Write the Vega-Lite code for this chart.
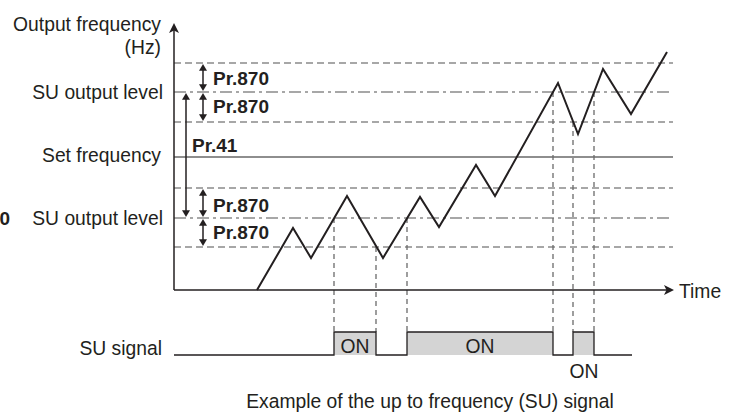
{
  "$schema": "https://vega.github.io/schema/vega-lite/v6.json",
  "width": 732,
  "height": 412,
  "padding": 0,
  "autosize": {"type": "none"},
  "config": {"view": {"stroke": null}, "text": {"font": "Liberation Sans", "fontSize": 19.3, "color": "#231f20"}},
  "encoding": {
    "x": {"field": "x", "type": "quantitative", "scale": {"domain": [0, 732], "nice": false, "zero": false}, "axis": null},
    "y": {"field": "y", "type": "quantitative", "scale": {"domain": [0, 412], "nice": false, "zero": false, "reverse": true}, "axis": null}
  },
  "layer": [
    {
      "data": {"values": [
        {"x": 334, "x2": 376, "y": 332, "y2": 355},
        {"x": 407, "x2": 553, "y": 332, "y2": 355},
        {"x": 573, "x2": 594, "y": 332, "y2": 355}
      ]},
      "mark": {"type": "rect", "color": "#d4d4d4"},
      "encoding": {"x2": {"field": "x2"}, "y2": {"field": "y2"}}
    },
    {
      "data": {"values": [
        {"x": 174, "x2": 673, "y": 63, "kind": "band"},
        {"x": 174, "x2": 673, "y": 92, "kind": "level"},
        {"x": 174, "x2": 673, "y": 122, "kind": "band"},
        {"x": 174, "x2": 673, "y": 157, "kind": "set"},
        {"x": 174, "x2": 673, "y": 188, "kind": "band"},
        {"x": 174, "x2": 673, "y": 218, "kind": "level"},
        {"x": 174, "x2": 673, "y": 247, "kind": "band"}
      ]},
      "mark": {"type": "rule", "strokeWidth": 1.5},
      "encoding": {
        "x2": {"field": "x2"},
        "strokeDash": {"field": "kind", "type": "nominal", "legend": null, "scale": {"domain": ["band", "level", "set"], "range": [[7, 4], [12, 4, 3, 4], [1, 0]]}},
        "color": {"field": "kind", "type": "nominal", "legend": null, "scale": {"domain": ["band", "level", "set"], "range": ["#8a8a8a", "#8a8a8a", "#6a6a6a"]}}
      }
    },
    {
      "data": {"values": [
        {"x": 334, "y": 218, "y2": 332},
        {"x": 376, "y": 247, "y2": 332},
        {"x": 407, "y": 218, "y2": 332},
        {"x": 553, "y": 92, "y2": 332},
        {"x": 573, "y": 122, "y2": 332},
        {"x": 594, "y": 92, "y2": 332}
      ]},
      "mark": {"type": "rule", "strokeWidth": 1.3, "strokeDash": [5, 4], "color": "#6a6a6a"},
      "encoding": {"y2": {"field": "y2"}}
    },
    {
      "data": {"values": [
        {"i": 0, "x": 174, "y": 355},
        {"i": 1, "x": 334, "y": 355},
        {"i": 2, "x": 334, "y": 332},
        {"i": 3, "x": 376, "y": 332},
        {"i": 4, "x": 376, "y": 355},
        {"i": 5, "x": 407, "y": 355},
        {"i": 6, "x": 407, "y": 332},
        {"i": 7, "x": 553, "y": 332},
        {"i": 8, "x": 553, "y": 355},
        {"i": 9, "x": 573, "y": 355},
        {"i": 10, "x": 573, "y": 332},
        {"i": 11, "x": 594, "y": 332},
        {"i": 12, "x": 594, "y": 355},
        {"i": 13, "x": 632, "y": 355}
      ]},
      "mark": {"type": "line", "color": "#231f20", "strokeWidth": 1.3},
      "encoding": {"order": {"field": "i", "type": "quantitative"}}
    },
    {
      "data": {"values": [
        {"i": 0, "x": 257, "y": 290},
        {"i": 1, "x": 293, "y": 228},
        {"i": 2, "x": 311, "y": 258},
        {"i": 3, "x": 347, "y": 196},
        {"i": 4, "x": 383, "y": 258},
        {"i": 5, "x": 420, "y": 197},
        {"i": 6, "x": 439, "y": 227},
        {"i": 7, "x": 476, "y": 165},
        {"i": 8, "x": 495, "y": 196},
        {"i": 9, "x": 558, "y": 83},
        {"i": 10, "x": 578, "y": 134},
        {"i": 11, "x": 603, "y": 69},
        {"i": 12, "x": 631, "y": 114},
        {"i": 13, "x": 667, "y": 52}
      ]},
      "mark": {"type": "line", "color": "#231f20", "strokeWidth": 2},
      "encoding": {"order": {"field": "i", "type": "quantitative"}}
    },
    {
      "data": {"values": [
        {"x": 174, "y": 290, "x2": 174, "y2": 30},
        {"x": 174, "y": 290, "x2": 667, "y2": 290}
      ]},
      "mark": {"type": "rule", "color": "#231f20", "strokeWidth": 1.5},
      "encoding": {"x2": {"field": "x2"}, "y2": {"field": "y2"}}
    },
    {
      "data": {"values": [
        {"x": 203, "y": 66, "y2": 89},
        {"x": 203, "y": 95, "y2": 119},
        {"x": 203, "y": 191, "y2": 215},
        {"x": 203, "y": 221, "y2": 244},
        {"x": 186, "y": 96, "y2": 215}
      ]},
      "mark": {"type": "rule", "color": "#231f20", "strokeWidth": 1.5},
      "encoding": {"y2": {"field": "y2"}}
    },
    {
      "data": {"values": [
        {"x": 203, "y": 64}, {"x": 203, "y": 93}, {"x": 203, "y": 189}, {"x": 203, "y": 219}, {"x": 186, "y": 93}
      ]},
      "mark": {"type": "point", "filled": true, "color": "#231f20", "opacity": 1, "size": 64, "strokeWidth": 0, "shape": "M0,0L-1,1.7L1,1.7Z"}
    },
    {
      "data": {"values": [
        {"x": 203, "y": 91}, {"x": 203, "y": 121}, {"x": 203, "y": 217}, {"x": 203, "y": 246}, {"x": 186, "y": 217}
      ]},
      "mark": {"type": "point", "filled": true, "color": "#231f20", "opacity": 1, "size": 64, "strokeWidth": 0, "shape": "M0,0L-1,-1.7L1,-1.7Z"}
    },
    {
      "data": {"values": [{"x": 174, "y": 23}]},
      "mark": {"type": "point", "filled": true, "color": "#231f20", "opacity": 1, "size": 100, "strokeWidth": 0, "shape": "M0,0L-1,2L0,1.5L1,2Z"}
    },
    {
      "data": {"values": [{"x": 674, "y": 290}]},
      "mark": {"type": "point", "filled": true, "color": "#231f20", "opacity": 1, "size": 100, "strokeWidth": 0, "shape": "M0,0L-2,-1L-1.5,0L-2,1Z"}
    },
    {
      "data": {"values": [
        {"x": 161, "y": 31, "label": "Output frequency"},
        {"x": 161, "y": 54, "label": "(Hz)"},
        {"x": 163, "y": 99, "label": "SU output level"},
        {"x": 161, "y": 162, "label": "Set frequency"},
        {"x": 163, "y": 225, "label": "SU output level"},
        {"x": 162, "y": 355, "label": "SU signal"}
      ]},
      "mark": {"type": "text", "align": "right", "baseline": "alphabetic"},
      "encoding": {"text": {"field": "label"}}
    },
    {
      "data": {"values": [
        {"x": 355, "y": 353, "label": "ON"},
        {"x": 480, "y": 353, "label": "ON"},
        {"x": 584, "y": 378, "label": "ON"},
        {"x": 430, "y": 408, "label": "Example of the up to frequency (SU) signal"}
      ]},
      "mark": {"type": "text", "align": "center", "baseline": "alphabetic"},
      "encoding": {"text": {"field": "label"}}
    },
    {
      "data": {"values": [{"x": 679, "y": 298, "label": "Time"}]},
      "mark": {"type": "text", "align": "left", "baseline": "alphabetic"},
      "encoding": {"text": {"field": "label"}}
    },
    {
      "data": {"values": [
        {"x": 213, "y": 85, "label": "Pr.870"},
        {"x": 213, "y": 113, "label": "Pr.870"},
        {"x": 213, "y": 212, "label": "Pr.870"},
        {"x": 213, "y": 239, "label": "Pr.870"},
        {"x": 192, "y": 152, "label": "Pr.41"}
      ]},
      "mark": {"type": "text", "align": "left", "baseline": "alphabetic", "fontWeight": "bold", "fontSize": 19}
      ,
      "encoding": {"text": {"field": "label"}}
    },
    {
      "data": {"values": [{"x": 10, "y": 225, "label": "0"}]},
      "mark": {"type": "text", "align": "right", "baseline": "alphabetic", "fontWeight": "bold", "fontSize": 19},
      "encoding": {"text": {"field": "label"}}
    }
  ]
}
